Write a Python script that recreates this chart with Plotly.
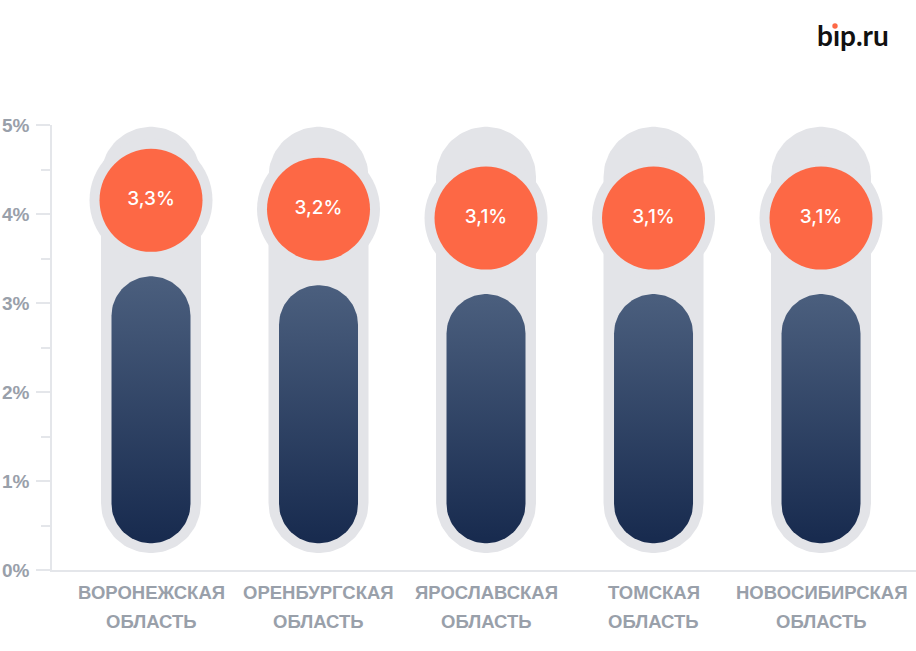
import numpy as np
import plotly.graph_objects as go

# ---- data ----
region_names = ["ВОРОНЕЖСКАЯ", "ОРЕНБУРГСКАЯ", "ЯРОСЛАВСКАЯ", "ТОМСКАЯ", "НОВОСИБИРСКАЯ"]
region_suffix = ["ОБЛАСТЬ", "ОБЛАСТЬ", "ОБЛАСТЬ", "ОБЛАСТЬ", "ОБЛАСТЬ"]
values = [3.3, 3.2, 3.1, 3.1, 3.1]
value_labels = ["3,3%", "3,2%", "3,1%", "3,1%", "3,1%"]
y_tick_vals = [0, 1, 2, 3, 4, 5]
y_tick_text = ["0%", "1%", "2%", "3%", "4%", "5%"]

# ---- layout constants ----
W, H = 916, 651
ML, MR, MT, MB = 52, 0, 125, 81
X_RANGE = [-0.591, 4.567]
Y_RANGE = [0, 5]
PX_X = (W - ML - MR) / (X_RANGE[1] - X_RANGE[0])
PX_Y = (H - MT - MB) / (Y_RANGE[1] - Y_RANGE[0])

GRAY = "#e3e4e8"
ORANGE = "#fd6845"
LABEL_GRAY = "#99a0aa"
AXIS_GRAY = "#e4e6ea"


def pill(xc, y_bottom, y_top, half_w_px, n=48):
    rx = half_w_px / PX_X
    ry = half_w_px / PX_Y
    t1 = np.linspace(0, np.pi, n)
    t2 = np.linspace(np.pi, 2 * np.pi, n)
    xs = np.concatenate([xc + rx * np.cos(t1), xc + rx * np.cos(t2)])
    ys = np.concatenate([(y_top - ry) + ry * np.sin(t1), (y_bottom + ry) + ry * np.sin(t2)])
    return np.append(xs, xs[0]), np.append(ys, ys[0])


fig = go.Figure()

x_pos = list(range(len(values)))
circle_offset = 76 / PX_Y
circle_y = [v + circle_offset for v in values]

# gray background pills
for i in x_pos:
    xs, ys = pill(i, 0.19, 4.98, 50)
    fig.add_trace(go.Scatter(x=xs, y=ys, mode="lines", fill="toself",
                             fillcolor=GRAY, line=dict(width=0), hoverinfo="skip",
                             showlegend=False))

# gray halo around circles
fig.add_trace(go.Scatter(x=x_pos, y=circle_y, mode="markers",
                         marker=dict(size=123, color=GRAY, line=dict(width=0)),
                         hoverinfo="skip", showlegend=False))

# dark gradient bars
for i, v in zip(x_pos, values):
    xs, ys = pill(i, 0.30, v, 39.5)
    fig.add_trace(go.Scatter(x=xs, y=ys, mode="lines", fill="toself",
                             fillgradient=dict(type="vertical",
                                               colorscale=[[0, "#172a4e"], [1, "#4b5f7e"]]),
                             line=dict(width=0), hoverinfo="skip", showlegend=False))

# orange circles with labels
fig.add_trace(go.Scatter(x=x_pos, y=circle_y, mode="markers+text",
                         marker=dict(size=103, color=ORANGE, line=dict(width=0)),
                         text=value_labels, textposition="middle center",
                         textfont=dict(family="Inter", size=19, color="white", weight=500),
                         hoverinfo="skip", showlegend=False))

# category labels
for i, (a, b) in enumerate(zip(region_names, region_suffix)):
    for txt, shift in ((a, -22), (b, -51)):
        fig.add_annotation(x=i, xref="x", y=0, yref="paper", yanchor="middle",
                           yshift=shift, text=txt, showarrow=False,
                           font=dict(family="Liberation Sans, Arial", size=18.5,
                                     color=LABEL_GRAY, weight="bold"))

# logo
fig.add_annotation(x=(815 - ML) / (W - ML - MR), xref="paper", xanchor="left",
                   y=(H - MB - 35) / (H - MT - MB), yref="paper", yanchor="middle",
                   text="bıp.ru", showarrow=False,
                   font=dict(family="Lato", size=28, color="#111111", weight="bold"))
fig.add_shape(type="circle", xref="paper", yref="paper",
              xsizemode="pixel", ysizemode="pixel",
              xanchor=(835 - ML) / (W - ML - MR), yanchor=(H - MB - 26) / (H - MT - MB),
              x0=-2.7, x1=2.7, y0=-2.7, y1=2.7,
              fillcolor=ORANGE, line=dict(width=0))

fig.update_layout(
    width=W, height=H,
    margin=dict(l=ML, r=MR, t=MT, b=MB),
    plot_bgcolor="white", paper_bgcolor="white",
    xaxis=dict(range=X_RANGE, showgrid=False, zeroline=False, showticklabels=False,
               showline=True, linecolor=AXIS_GRAY, linewidth=1.5, ticks="", fixedrange=True),
    yaxis=dict(range=Y_RANGE, showgrid=False, zeroline=False,
               tickvals=y_tick_vals, ticktext=y_tick_text,
               showline=True, linecolor=AXIS_GRAY, linewidth=1.5,
               ticks="outside", ticklen=14, tickcolor=AXIS_GRAY, tickwidth=1.5,
               minor=dict(dtick=0.5, ticks="outside", ticklen=9, tickcolor=AXIS_GRAY, tickwidth=1.5),
               tickfont=dict(family="Liberation Sans, Arial", size=19, color=LABEL_GRAY, weight="bold"),
               ticklabelstandoff=3, automargin=False, fixedrange=True),
    showlegend=False,
)

fig.write_html("out.html")
